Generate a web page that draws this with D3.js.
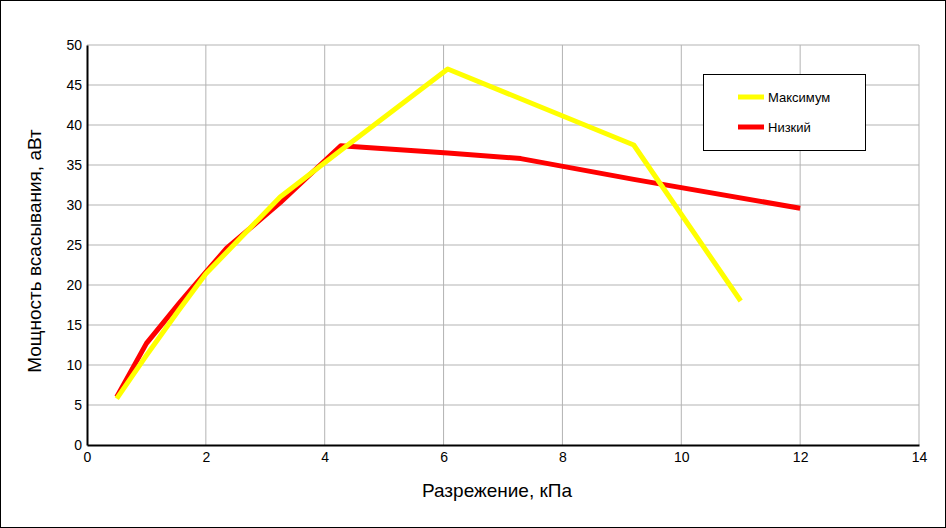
<!DOCTYPE html>
<html>
<head>
<meta charset="utf-8">
<script src="https://cdn.jsdelivr.net/npm/d3@7"></script>
<style>
  body { margin: 0; background: #fff; }
  svg { display: block; font-family: "Liberation Sans", Arial, sans-serif; }
</style>
</head>
<body>
<div id="chart"></div>
<script>
// data
const maxX = [0.5, 1.0, 1.55, 2.0, 3.25, 4.3, 6.07, 9.2, 11.0];
const maxY = [5.8, 11.2, 16.9, 21.4, 31.0, 37.0, 47.0, 37.5, 18.0];
const lowX = [0.5, 1.0, 1.57, 2.0, 2.35, 3.25, 4.27, 6.07, 7.3, 9.2, 12.0];
const lowY = [6.0, 12.7, 17.9, 21.6, 24.6, 30.3, 37.4, 36.5, 35.8, 33.2, 29.6];
const xTicks = [0, 2, 4, 6, 8, 10, 12, 14];
const yTicks = [0, 5, 10, 15, 20, 25, 30, 35, 40, 45, 50];
const seriesNames = ["Максимум", "Низкий"];
const seriesColors = ["#ffff00", "#ff0000"];
const xTitle = "Разрежение, кПа";
const yTitle = "Мощность всасывания, аВт";

const W = 946, H = 528;
const margin = { top: 45, right: 27, bottom: 83, left: 87 };
const width = W - margin.left - margin.right;
const height = H - margin.top - margin.bottom;

const svg = d3.select("#chart").append("svg")
  .attr("width", W)
  .attr("height", H);

svg.append("rect")
  .attr("x", 0.5).attr("y", 0.5)
  .attr("width", W - 1).attr("height", H - 1)
  .attr("fill", "#fff")
  .attr("stroke", "#000");

const g = svg.append("g")
  .attr("transform", `translate(${margin.left},${margin.top})`);

const x = d3.scaleLinear().domain([0, 14]).range([0, width]);
const y = d3.scaleLinear().domain([0, 50]).range([height, 0]);

// grid
g.append("g").selectAll("line")
  .data(xTicks.slice(1))
  .join("line")
  .attr("x1", d => x(d)).attr("x2", d => x(d))
  .attr("y1", 0).attr("y2", height)
  .attr("stroke", "#b3b3b3");

g.append("g").selectAll("line")
  .data(yTicks.slice(1))
  .join("line")
  .attr("x1", 0).attr("x2", width)
  .attr("y1", d => y(d)).attr("y2", d => y(d))
  .attr("stroke", "#b3b3b3");

// axes
const xAxis = g.append("g")
  .attr("transform", `translate(0,${height})`)
  .call(d3.axisBottom(x).tickValues(xTicks).tickSize(0).tickPadding(7));
const yAxis = g.append("g")
  .call(d3.axisLeft(y).tickValues(yTicks).tickSize(0).tickPadding(5));

[xAxis, yAxis].forEach(a => {
  a.select(".domain").attr("stroke", "#000").attr("stroke-width", 2);
  a.selectAll("text")
    .attr("fill", "#000")
    .style("font-size", "14px")
    .style("font-family", "Liberation Sans, Arial, sans-serif");
});

// series
const line = d3.line().x(d => x(d[0])).y(d => y(d[1]));
const maxData = maxX.map((v, i) => [v, maxY[i]]);
const lowData = lowX.map((v, i) => [v, lowY[i]]);

g.append("path")
  .datum(lowData)
  .attr("d", line)
  .attr("fill", "none")
  .attr("stroke", seriesColors[1])
  .attr("stroke-width", 5)
  .attr("stroke-linejoin", "round");

g.append("path")
  .datum(maxData)
  .attr("d", line)
  .attr("fill", "none")
  .attr("stroke", seriesColors[0])
  .attr("stroke-width", 5)
  .attr("stroke-linejoin", "round");

// axis titles
svg.append("text")
  .attr("x", 497)
  .attr("y", 497)
  .attr("text-anchor", "middle")
  .style("font-size", "19px")
  .text(xTitle);

svg.append("text")
  .attr("transform", `translate(41,251) rotate(-90)`)
  .attr("text-anchor", "middle")
  .style("font-size", "19px")
  .text(yTitle);

// legend
const legend = svg.append("g").attr("transform", "translate(703,74)");
legend.append("rect")
  .attr("x", 0.5).attr("y", 0.5)
  .attr("width", 162).attr("height", 76)
  .attr("fill", "#fff")
  .attr("stroke", "#000");

seriesNames.forEach((name, i) => {
  const ly = 23 + i * 30;
  legend.append("line")
    .attr("x1", 35).attr("x2", 61)
    .attr("y1", ly).attr("y2", ly)
    .attr("stroke", seriesColors[i])
    .attr("stroke-width", 5);
  legend.append("text")
    .attr("x", 65).attr("y", ly + 4.5)
    .style("font-size", "13px")
    .text(name);
});
</script>
</body>
</html>
